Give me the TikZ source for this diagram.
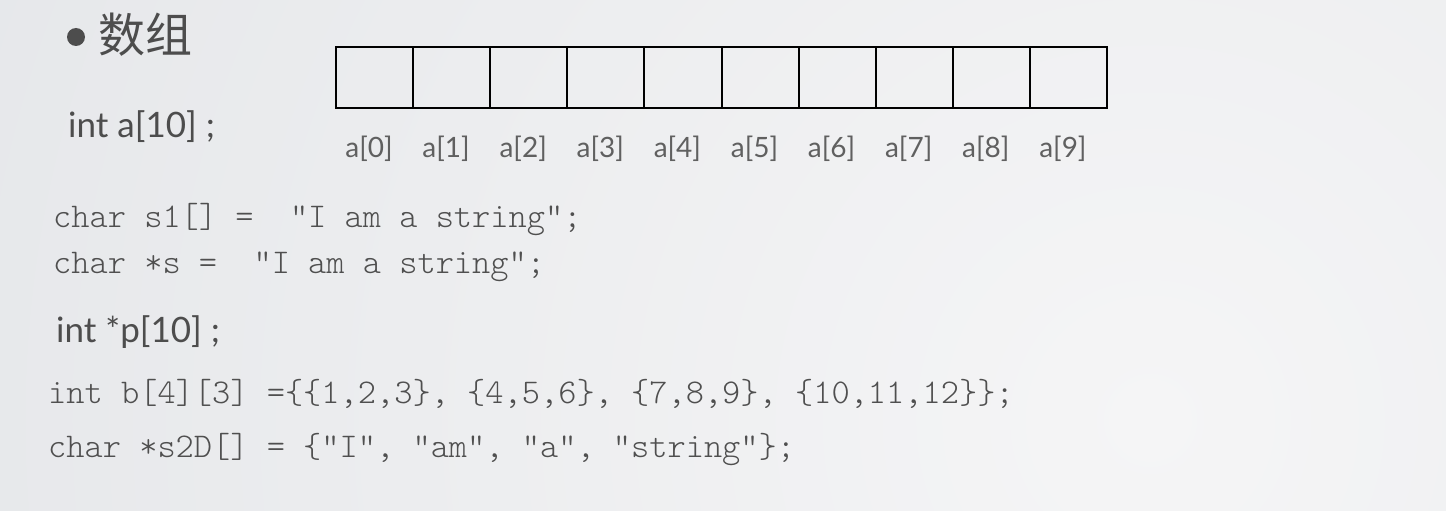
\documentclass[tikz,border=0pt]{standalone}
\usepackage{fontspec}
\setmainfont{Lato}
\newfontfamily\cjkfont{Noto Sans CJK SC}
\definecolor{txt}{HTML}{4D4D4D}
\definecolor{codec}{HTML}{4F4F4F}
\definecolor{labc}{HTML}{606060}
\definecolor{bgout}{HTML}{E3E5E8}
\definecolor{bgin}{HTML}{F5F5F6}
\tikzset{
  cellbox/.style={draw=black, line width=2pt, minimum width=77.1pt, minimum height=61pt, inner sep=0pt, outer sep=0pt, anchor=north west},
  idxlab/.style={text=labc, inner sep=0pt, anchor=base, font=\fontsize{28}{32}\selectfont},
  sanstxt/.style={text=txt, inner sep=0pt, anchor=base west, font=\fontsize{35}{40}\selectfont},
  codetxt/.style={text=codec, inner sep=0pt, anchor=base west, font=\ttfamily\fontseries{l}\fontsize{34.7}{38}\selectfont},
}
\begin{document}
\begin{tikzpicture}[x=1pt,y=-1pt]
\useasboundingbox (0,0) rectangle (1446,511);
\begin{scope}
\clip (0,0) rectangle (1446,511);
\shade[inner color=bgin, outer color=bgout] (1150,420) circle (1500);
\end{scope}
% title
\fill[txt] (76,37) circle (9);
\node[text=txt, inner sep=0pt, anchor=center, font=\cjkfont\fontsize{47}{52}\selectfont] (title) at (145,35) {数组};
% int a[10]
\node[sanstxt] (decla) at (68,137) {int a[10] ;};
% array cells
\foreach \i in {0,...,9}{
  \node[cellbox] (c\i) at ({336+77.1*\i},47) {};
  \node[idxlab] (l\i) at ({336+77.1*\i+33},157) {a[\i]};
}
% code lines
\node[codetxt] (s1) at (53,227) {char s1[] =\ \ "I am a string";};
\node[codetxt] (s) at (53,273) {char *s =\ \ "I am a string";};
\node[sanstxt] (declp) at (56,342) {int *p[10] ;};
\node[codetxt] (b) at (48,403) {int b[4][3] =\{\{1,2,3\}, \{4,5,6\}, \{7,8,9\}, \{10,11,12\}\};};
\node[codetxt] (s2d) at (48,457) {char *s2D[] = \{“I”, “am”, “a”, “string”\};};
\end{tikzpicture}
\end{document}
